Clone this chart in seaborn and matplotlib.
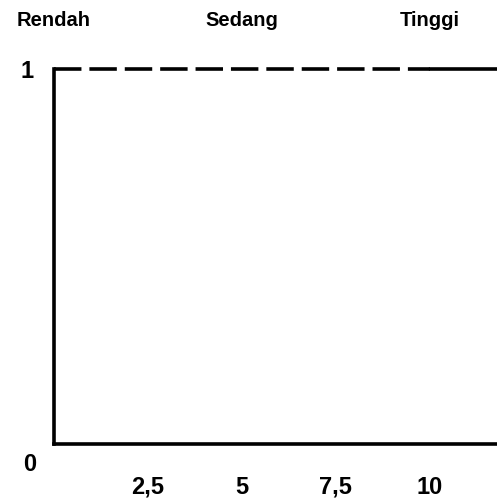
import matplotlib
matplotlib.use('Agg')
import matplotlib.pyplot as plt
import seaborn as sns

# ── data ────────────────────────────────────────────────────────────────
categories = ['Rendah', 'Sedang', 'Tinggi']
category_x = [0, 5, 10]
x_ticks = [2.5, 5, 7.5, 10]
x_tick_labels = ['2,5', '5', '7,5', '10']
dashed_x = [0, 10]
dashed_y = [1, 1]
solid_x = [10, 11.8]
solid_y = [1, 1]

sns.set_style('white')
plt.rcParams['font.family'] = ['Liberation Sans', 'DejaVu Sans']
plt.rcParams['text.color'] = 'black'
plt.rcParams['xtick.color'] = 'black'
plt.rcParams['ytick.color'] = 'black'

fig = plt.figure(figsize=(4.97, 4.98), dpi=100)
ax = fig.add_axes([53.5 / 497, 54 / 498, 1 - 53.5 / 497, 374.5 / 498])

lw = 2.6
sns.lineplot(x=dashed_x, y=dashed_y, ax=ax, color='black', linewidth=lw,
             dashes=False, clip_on=False)
ax.lines[-1].set_dashes((7.6, 2.2))
sns.lineplot(x=solid_x, y=solid_y, ax=ax, color='black', linewidth=lw, clip_on=False)

ax.set_xlim(0, 11.78)
ax.set_ylim(0, 1)

for s in ['top', 'right']:
    ax.spines[s].set_visible(False)
for s in ['left', 'bottom']:
    ax.spines[s].set_color('black')
    ax.spines[s].set_linewidth(lw)

ax.set_xticks(x_ticks)
ax.set_xticklabels(x_tick_labels, fontsize=17, fontweight='bold')
ax.tick_params(axis='x', length=0, pad=23)
ax.set_yticks([1])
ax.set_yticklabels(['1'], fontsize=17, fontweight='bold')
ax.tick_params(axis='y', length=0, pad=14)

# zero label sits below the corner
ax.text(-0.63, -0.056, '0', fontsize=17, fontweight='bold', ha='center',
        va='center', clip_on=False)

for name, cx in zip(categories, category_x):
    ax.text(cx, 1.13, name, fontsize=14.5, fontweight='bold', ha='center',
            va='center', clip_on=False)

fig.savefig('out.png', dpi=100)
